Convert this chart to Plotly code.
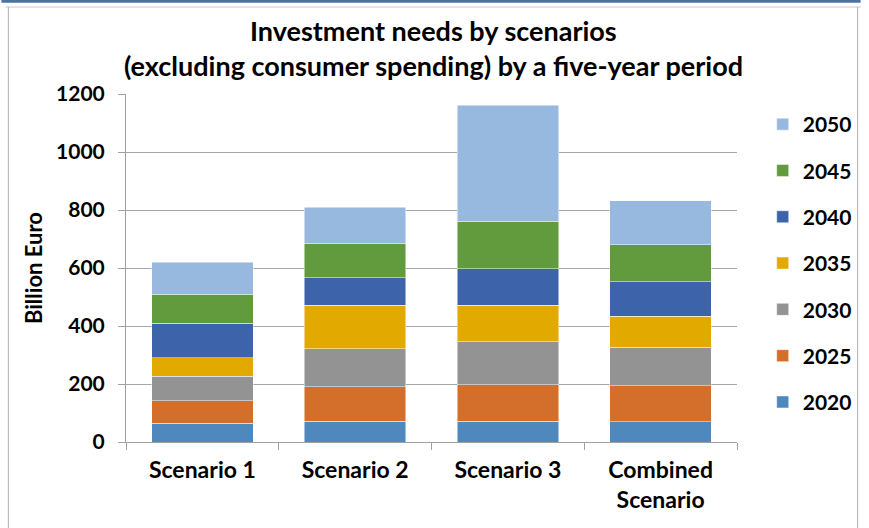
import plotly.graph_objects as go

categories = ["Scenario 1", "Scenario 2", "Scenario 3", "Combined<br>Scenario"]
years = ["2020", "2025", "2030", "2035", "2040", "2045", "2050"]
v2020 = [64, 71, 71, 70]
v2025 = [78, 120, 127, 124]
v2030 = [85, 131, 147, 132]
v2035 = [64, 149, 126, 107]
v2040 = [118, 95, 127, 120]
v2045 = [100, 120, 163, 128]
v2050 = [111, 124, 401, 151]
series = [v2020, v2025, v2030, v2035, v2040, v2045, v2050]
colors = ["#4f88bd", "#d36f2b", "#939393", "#e2a900", "#3d64ab", "#629a3e", "#98b9df"]

y_ticks = [0, 200, 400, 600, 800, 1000, 1200]
title_lines = ["Investment needs by scenarios",
               "(excluding consumer spending) by a five-year period"]

FONT = "Lato, 'Open Sans', sans-serif"

fig = go.Figure()
for i, (name, vals, col) in enumerate(zip(years, series, colors)):
    fig.add_trace(go.Bar(
        x=categories, y=vals, name=name, legendgroup=name, legendrank=100 - i,
        marker=dict(color=col, line=dict(color="rgba(255,255,255,0.6)", width=0.8)),
    ))

# plot area in pixels
L, R, T, B = 126, 744, 94, 442
W, H = 869, 528
def px(x):
    return (x - L) / (R - L)
def py(y):
    return (B - y) / (B - T)

shapes = [
    dict(type="line", xref="paper", yref="paper", x0=px(0), x1=px(W), y0=py(1.2), y1=py(1.2),
         line=dict(color="#4a73a3", width=3)),
    dict(type="line", xref="paper", yref="paper", x0=px(4), x1=px(W), y0=py(7), y1=py(7),
         line=dict(color="#c8c8c8", width=1)),
    dict(type="line", xref="paper", yref="paper", x0=px(7), x1=px(7), y0=py(7), y1=py(W),
         line=dict(color="#b0b0b0", width=1)),
    dict(type="line", xref="paper", yref="paper", x0=px(866), x1=px(866), y0=py(7), y1=py(W),
         line=dict(color="#b0b0b0", width=1)),
]

annotations = [
    dict(text=title_lines[0], xref="paper", yref="paper", x=px(437), y=py(30),
         xanchor="center", yanchor="middle", showarrow=False,
         font=dict(family=FONT, size=27, color="black", weight="bold")),
    dict(text=title_lines[1], xref="paper", yref="paper", x=px(437), y=py(65),
         xanchor="center", yanchor="middle", showarrow=False,
         font=dict(family=FONT, size=27, color="black", weight="bold")),
]

fig.update_layout(
    width=W, height=H,
    margin=dict(l=L, r=W - R, t=T, b=H - B),
    paper_bgcolor="white", plot_bgcolor="white",
    barmode="stack", bargap=0.335,
    font=dict(family=FONT, color="black"),
    xaxis=dict(
        range=[-0.5, 3.5], showgrid=False, showline=True, linecolor="#a0a0a0", linewidth=1,
        ticks="outside", tickson="boundaries", ticklen=7, tickcolor="#a0a0a0",
        ticklabelstandoff=7,
        tickfont=dict(family=FONT, size=23, color="black", weight="bold"),
    ),
    yaxis=dict(
        range=[0, 1200], tickvals=y_ticks, showgrid=True, gridcolor="#a6a6a6", gridwidth=1,
        showline=True, linecolor="#a0a0a0", linewidth=1, ticks="outside", ticklen=7,
        ticklabelstandoff=9,
        tickcolor="#a0a0a0", tickfont=dict(family=FONT, size=21, color="black", weight="bold"),
        title=dict(text="Billion Euro", font=dict(family=FONT, size=22, color="black", weight="bold"),
                   standoff=7),
        zeroline=False,
    ),
    legend=dict(
        x=px(770), xanchor="left", y=py(104), yanchor="top",
        traceorder="grouped", tracegroupgap=16,
        font=dict(family=FONT, size=21, color="black", weight="bold"), itemwidth=30,
        bgcolor="rgba(0,0,0,0)",
    ),
    shapes=shapes,
    annotations=annotations,
)

fig.write_html("out.html")
